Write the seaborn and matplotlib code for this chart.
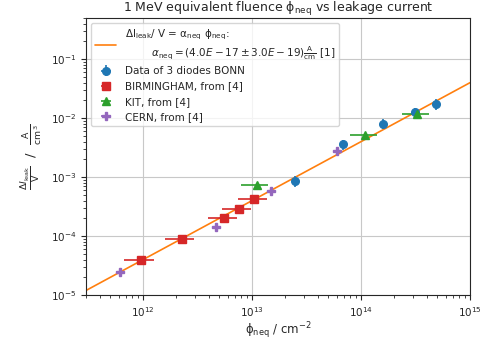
import numpy as np
import pandas as pd
import matplotlib
matplotlib.use("Agg")
import matplotlib.pyplot as plt
import seaborn as sns

# fit: dI/V = alpha * phi
alpha = 4.0e-17
fit_phi = [3e11, 1e15]

# Data of 3 diodes BONN
bonn_phi = [2.47e13, 6.9e13, 1.6e14, 3.16e14, 4.88e14]
bonn_i = [8.6e-4, 3.6e-3, 8.1e-3, 1.25e-2, 1.73e-2]
bonn_xerr = [1.5e12, 4e12, 9e12, 1.8e13, 2.8e13]
bonn_yerr = [1.8e-4, 7.5e-4, 1.6e-3, 2.6e-3, 3.6e-3]

# BIRMINGHAM, from [4]
birm_phi = [9.6e11, 2.27e12, 5.57e12, 7.55e12, 1.05e13]
birm_i = [3.9e-5, 8.8e-5, 2.04e-4, 2.9e-4, 4.2e-4]
birm_xerr = [2.9e11, 6.8e11, 1.65e12, 2.25e12, 3.1e12]

# KIT, from [4]
kit_phi = [1.1e13, 1.1e14, 3.3e14]
kit_i = [7.3e-4, 5.2e-3, 1.17e-2]
kit_xerr = [3e12, 3e13, 9e13]

# CERN, from [4]
cern_phi = [6.15e11, 4.68e12, 1.49e13, 6.03e13]
cern_i = [2.46e-5, 1.44e-4, 5.8e-4, 2.8e-3]
cern_xerr = [3e10, 2.3e11, 7e11, 3e12]

sns.set_style("ticks")

fig = plt.figure(figsize=(4.89, 3.4), dpi=100)
ax = fig.add_axes([0.176, 0.132, 0.785, 0.815])

fit_label = ("ΔI$_{\\rm leak}$/ V = α$_{\\rm neq}$ ϕ$_{\\rm neq}$:\n"
             "        $\\alpha_{\\rm neq} = (4.0E-17 \\pm 3.0E-19)\\frac{\\rm A}{\\rm cm}$ [1]")
fit_df = pd.DataFrame({"phi": fit_phi, "I": [alpha * p for p in fit_phi]})
sns.lineplot(data=fit_df, x="phi", y="I", ax=ax, color="tab:orange", lw=1.2, label=fit_label)

ax.errorbar(bonn_phi, bonn_i, xerr=bonn_xerr, yerr=bonn_yerr, fmt="o", color="tab:blue",
            ms=5.5, elinewidth=1.2, label="Data of 3 diodes BONN")
ax.errorbar(birm_phi, birm_i, xerr=birm_xerr, fmt="s", color="tab:red",
            ms=5.5, elinewidth=1.2, label="BIRMINGHAM, from [4]")
ax.errorbar(kit_phi, kit_i, xerr=kit_xerr, fmt="^", color="tab:green",
            ms=5.5, elinewidth=1.2, label="KIT, from [4]")
ax.errorbar(cern_phi, cern_i, xerr=cern_xerr, fmt="P", color="tab:purple",
            ms=5.5, elinewidth=1.2, label="CERN, from [4]")

ax.set_xscale("log")
ax.set_yscale("log")
ax.set_xlim(3e11, 1e15)
ax.set_ylim(1e-5, 0.5)
ax.grid(True, which="major", color="#c8c8c8", lw=0.8)
ax.tick_params(labelsize=7.5)

ax.set_title("1 MeV equivalent fluence ϕ$_{\\rm neq}$ vs leakage current", fontsize=9, pad=3)
ax.set_xlabel("ϕ$_{\\rm neq}$ / cm$^{-2}$", fontsize=8.5, labelpad=1)
ax.set_ylabel(r"$\frac{\Delta I_{\rm leak}}{\rm V}$  /  $\frac{\rm A}{\rm cm^3}$", fontsize=9.5)

ax.legend(loc="upper left", fontsize=7.5, framealpha=0.8)

fig.savefig("out.png", dpi=100)
